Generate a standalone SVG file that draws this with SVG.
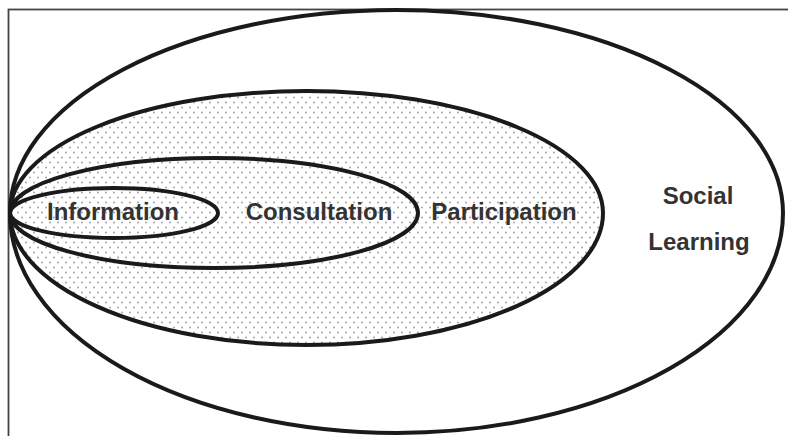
<svg xmlns="http://www.w3.org/2000/svg" width="788" height="436" viewBox="0 0 788 436">
  <defs>
    <pattern id="dots" width="8" height="10" patternUnits="userSpaceOnUse">
      <circle cx="2" cy="2.5" r="0.9" fill="#9a9a9a"/>
      <circle cx="6" cy="7.5" r="0.9" fill="#9a9a9a"/>
    </pattern>
  </defs>
  <style>
    .ring { stroke: #1a1a1a; stroke-width: 4; }
    .lbl { font-family: "Liberation Sans", Arial, sans-serif; font-weight: bold; font-size: 24px; fill: #333333; text-anchor: middle; }
  </style>
  <rect x="0" y="0" width="788" height="436" fill="#ffffff"/>
  <rect x="8.5" y="9.5" width="800" height="440" fill="none" stroke="#444444" stroke-width="1.8"/>
  <g id="social-learning">
    <path class="ring" fill="#ffffff" d="M10,213 A386.5,203 0 0 1 783,213 A386.5,220 0 0 1 10,213 Z"/>
    <text class="lbl" x="698" y="204">Social</text>
    <text class="lbl" x="699" y="250">Learning</text>
  </g>
  <g id="participation">
    <path class="ring" fill="url(#dots)" d="M10,213 A296.5,122 0 0 1 603,213 A296.5,132 0 0 1 10,213 Z"/>
    <text class="lbl" x="504" y="220">Participation</text>
  </g>
  <g id="consultation">
    <path class="ring" fill="none" d="M10,213 A204,55 0 0 1 418,213 A204,55 0 0 1 10,213 Z"/>
    <text class="lbl" x="319" y="220">Consultation</text>
  </g>
  <g id="information">
    <path class="ring" fill="none" d="M10,213 A104,25 0 0 1 218,213 A104,25 0 0 1 10,213 Z"/>
    <text class="lbl" x="113" y="220">Information</text>
  </g>
  <g id="connectors"/>
</svg>
